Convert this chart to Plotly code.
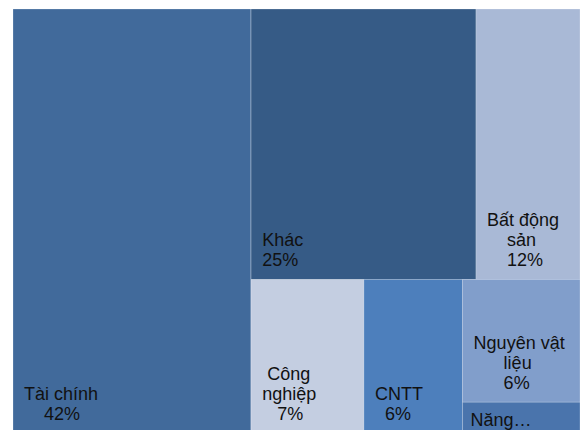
import plotly.graph_objects as go

# ---- data ----
categories = ["Tài chính", "Khác", "Bất động sản", "Công nghiệp", "CNTT", "Nguyên vật liệu", "Năng lượng"]
values = [42.0, 25.3, 11.7, 7.2, 6.3, 6.0, 1.5]
label_lines = [["Tài chính"], ["Khác"], ["Bất động", "sản"], ["Công", "nghiệp"], ["CNTT"], ["Nguyên vật", "liệu"], ["Năng…"]]
show_pct = [True, True, True, True, True, True, False]
colors = ["#416A9B", "#365B86", "#A9B9D6", "#C4CEE1", "#4D7FBC", "#819ECB", "#4A74AC"]

# grouping that reproduces the reference's tile arrangement
leaf_parents = ["", "top", "top", "bottom", "bottom", "d", "d"]
group_ids = ["rest", "top", "bottom", "d"]
group_parents = ["", "rest", "rest", "bottom"]
group_colors = ["#365B86", "#365B86", "#C4CEE1", "#819ECB"]

# ---- label formatting (Excel-like: lines centred on each other, inset from tile edge) ----
FONT_PX = 18
ARIAL = {" ": 278, "\u00a0": 278, "%": 889, "T": 611, "à": 556, "i": 222, "í": 278, "c": 500,
         "h": 556, "n": 556, "K": 667, "á": 556, "B": 667, "ấ": 556, "t": 278, "đ": 556,
         "ộ": 556, "g": 556, "s": 500, "ả": 556, "C": 722, "ô": 556, "p": 556, "ệ": 556,
         "N": 722, "u": 556, "y": 500, "ê": 556, "v": 500, "ậ": 556, "l": 222, "ă": 556, "…": 1000}


def text_w(s):
    return sum(ARIAL.get(ch, 556) for ch in s) * FONT_PX / 1000.0


NBSP_W = 0.278 * FONT_PX


def build_label(lines, roomy):
    widest = max(text_w(l) for l in lines)
    lead_px = 29 if roomy else FONT_PX
    out = []
    for k, l in enumerate(lines):
        n = int(round((widest - text_w(l)) / 2 / NBSP_W))
        body = "\u00a0" * n + l
        s = '<span style="font-size:%dpx">\u00a0</span><span style="font-size:%dpx">%s</span>' % (
            lead_px, FONT_PX, body)
        if roomy and k == len(lines) - 1:
            s += '<span style="font-size:48px">\u00a0</span>'
        out.append(s)
    return "<br>".join(out)


custom = []
for lines, v, sp in zip(label_lines, values, show_pct):
    ls = list(lines) + ([f"{v:.0f}%"] if sp else [])
    custom.append(build_label(ls, sp))
custom += ["" for _ in group_ids]

ids = categories + group_ids
labels = categories + ["" for _ in group_ids]
parents = leaf_parents + group_parents
vals = values + [0 for _ in group_ids]

fig = go.Figure(
    go.Treemap(
        ids=ids,
        labels=labels,
        parents=parents,
        values=vals,
        branchvalues="remainder",
        sort=False,
        customdata=custom,
        texttemplate="%{customdata}",
        textposition="bottom left",
        hoverinfo="skip",
        marker=dict(
            colors=colors + group_colors,
            line=dict(width=1, color="rgba(255,255,255,0.22)"),
            pad=dict(t=0, l=0, r=0, b=0),
        ),
        tiling=dict(pad=0, packing="squarify"),
        pathbar=dict(visible=False),
        root=dict(color="rgba(0,0,0,0)"),
        textfont=dict(family="Liberation Sans, Arial, sans-serif", size=15.4, color="#111111"),
    )
)

fig.update_layout(
    width=581,
    height=433,
    margin=dict(l=13, r=1, t=9, b=0),
    paper_bgcolor="white",
    plot_bgcolor="white",
)

fig.write_html(
    "out.html",
    config={"displayModeBar": False},
    post_script="document.body.style.margin='0';document.body.style.overflow='hidden';"
                "document.documentElement.style.overflow='hidden';",
)
